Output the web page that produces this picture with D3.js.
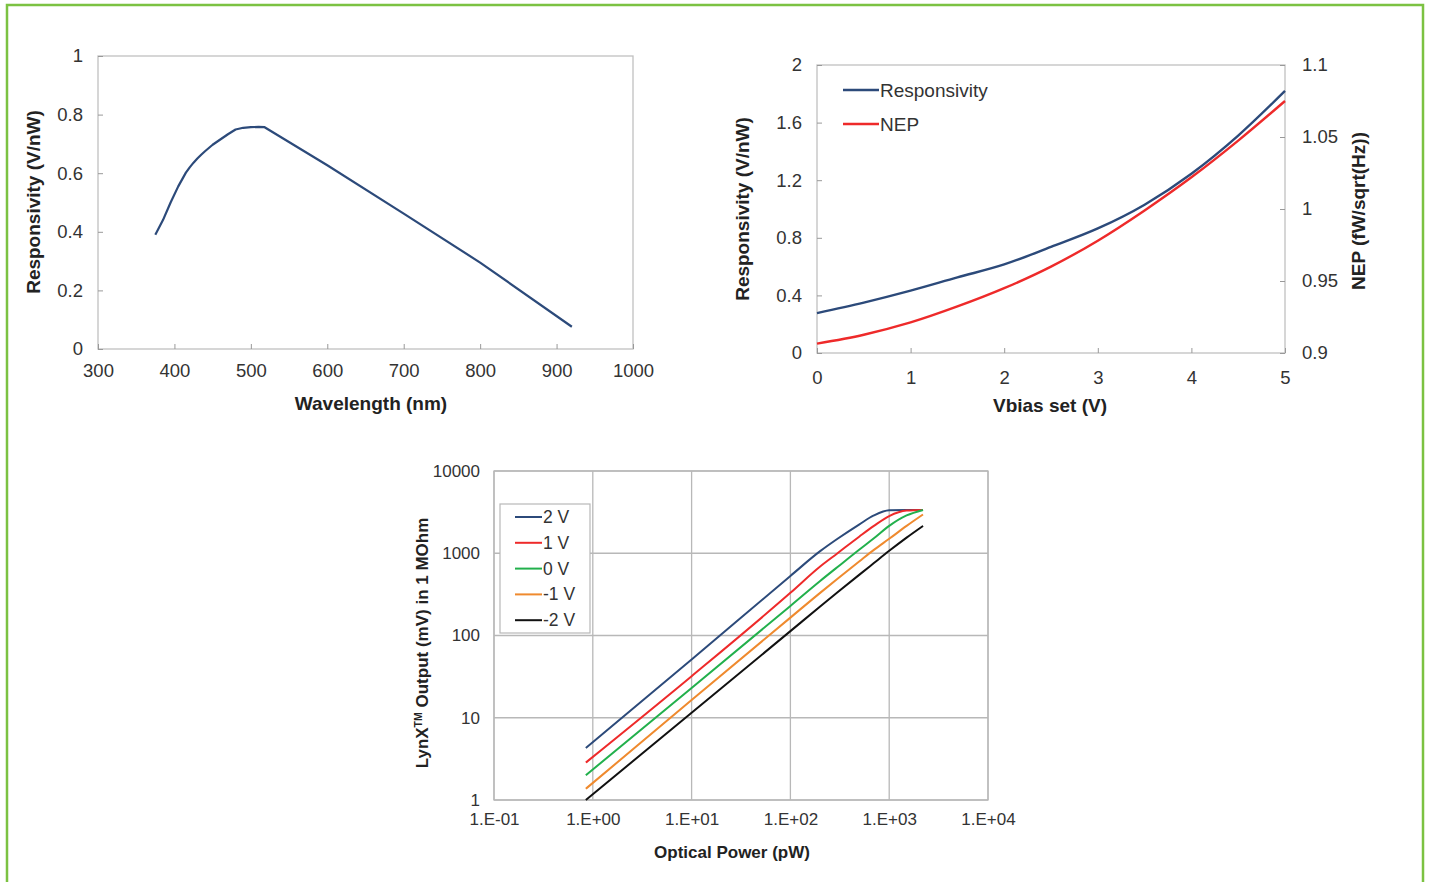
<!DOCTYPE html>
<html>
<head>
<meta charset="utf-8">
<script src="https://cdn.jsdelivr.net/npm/d3@7"></script>
<style>
  html, body { margin: 0; padding: 0; background: #fff; }
  svg { display: block; }
  text { font-family: "Liberation Sans", Arial, sans-serif; }
</style>
</head>
<body>
<svg id="chart" width="1430" height="882"></svg>
<script>
// ---------- Data ----------
// Chart 1: Responsivity vs wavelength
const wavelengthNm = [375, 385, 395, 405, 415, 420, 425, 430, 435, 440, 450, 460, 470, 480, 490, 500, 510, 518, 600, 700, 800, 920];
const responsivityVnW = [0.39, 0.44, 0.50, 0.555, 0.602, 0.620, 0.636, 0.650, 0.663, 0.675, 0.697, 0.715, 0.733, 0.749, 0.755, 0.757, 0.758, 0.757, 0.627, 0.462, 0.295, 0.076];
const xTicks1 = [300, 400, 500, 600, 700, 800, 900, 1000];
const yTicks1 = [0, 0.2, 0.4, 0.6, 0.8, 1];

// Chart 2: Responsivity & NEP vs Vbias
const vbias = [0, 0.5, 1, 1.5, 2, 2.5, 3, 3.5, 4, 4.5, 5];
const respVsBias = [0.277, 0.35, 0.433, 0.525, 0.615, 0.737, 0.865, 1.03, 1.245, 1.51, 1.82];
const nepVsBias = [0.9065, 0.9127, 0.9212, 0.9323, 0.945, 0.960, 0.978, 0.999, 1.022, 1.0475, 1.075];
const xTicks2 = [0, 1, 2, 3, 4, 5];
const yTicks2L = [0, 0.4, 0.8, 1.2, 1.6, 2];
const yTicks2R = [0.9, 0.95, 1, 1.05, 1.1];
const seriesNames2 = ["Responsivity", "NEP"];

// Chart 3: LynX output vs optical power (log-log)
const powerPw = [0.85, 10, 100, 200, 300, 500, 700, 1000, 1500, 2200];
const seriesNames3 = ["2 V", "1 V", "0 V", "-1 V", "-2 V"];
const out2V  = [4.3, 51, 530, 1060, 1500, 2250, 2880, 3330, 3360, 3360];
const out1V  = [2.85, 32, 330, 690, 1000, 1600, 2150, 2830, 3300, 3360];
const out0V  = [2.0, 23, 229, 460, 680, 1110, 1520, 2150, 2880, 3360];
const outM1V = [1.37, 16.4, 165, 330, 490, 800, 1100, 1500, 2150, 2960];
const outM2V = [1.0, 11.5, 113, 225, 335, 550, 760, 1070, 1550, 2150];
const xTicks3 = [0.1, 1, 10, 100, 1000, 10000];
const xTickLabels3 = ["1.E-01", "1.E+00", "1.E+01", "1.E+02", "1.E+03", "1.E+04"];
const yTicks3 = [1, 10, 100, 1000, 10000];

// ---------- Styles ----------
const navy = "#2c4a7a", red = "#ee2a2a", green = "#22b04c", orange = "#ef8a2e", black = "#111";
const frameGray = "#c0c0c0", tickText = "#333";

const svg = d3.select("#chart");

// Green frame
svg.append("rect").attr("x", 7).attr("y", 5).attr("width", 1416).attr("height", 890)
  .attr("fill", "none").attr("stroke", "#7cc242").attr("stroke-width", 2.5);

function styleAxis(g) {
  g.selectAll(".domain").remove();
  g.selectAll(".tick line").attr("stroke", "#999");
  g.selectAll(".tick text").attr("fill", tickText).style("font-family", "Liberation Sans, Arial, sans-serif");
}

// ================= Chart 1 =================
{
  const L = 98, R = 633, T = 56, B = 349;
  const x = d3.scaleLinear().domain([300, 1000]).range([L, R]);
  const y = d3.scaleLinear().domain([0, 1]).range([B, T]);
  const g = svg.append("g");
  g.append("rect").attr("x", L).attr("y", T).attr("width", R - L).attr("height", B - T)
    .attr("fill", "none").attr("stroke", frameGray).attr("stroke-width", 1.3);
  g.append("g").attr("transform", `translate(0,${B})`)
    .call(d3.axisBottom(x).tickValues(xTicks1).tickSizeInner(-5).tickSizeOuter(0).tickPadding(15).tickFormat(d3.format("d")))
    .call(styleAxis).selectAll("text").style("font-size", "18.5px");
  g.append("g").attr("transform", `translate(${L},0)`)
    .call(d3.axisLeft(y).tickValues(yTicks1).tickSizeInner(-5).tickSizeOuter(0).tickPadding(15).tickFormat(d => d === 0 || d === 1 ? d : d.toFixed(1)))
    .call(styleAxis).selectAll("text").style("font-size", "18.5px");
  const line = d3.line().x((d, i) => x(wavelengthNm[i])).y(d => y(d)).curve(d3.curveLinear);
  g.append("path").datum(responsivityVnW).attr("d", line).attr("fill", "none")
    .attr("stroke", navy).attr("stroke-width", 2.2).attr("stroke-linejoin", "round");
  g.append("text").attr("x", 371).attr("y", 410).attr("text-anchor", "middle")
    .style("font-size", "19px").style("font-weight", "bold").attr("fill", "#222").text("Wavelength (nm)");
  g.append("text").attr("transform", "translate(40,202) rotate(-90)").attr("text-anchor", "middle")
    .style("font-size", "19px").style("font-weight", "bold").attr("fill", "#222").text("Responsivity (V/nW)");
}

// ================= Chart 2 =================
{
  const L = 817, R = 1285, T = 65, B = 353;
  const x = d3.scaleLinear().domain([0, 5]).range([L, R]);
  const yL = d3.scaleLinear().domain([0, 2]).range([B, T]);
  const yR = d3.scaleLinear().domain([0.9, 1.1]).range([B, T]);
  const g = svg.append("g");
  g.append("rect").attr("x", L).attr("y", T).attr("width", R - L).attr("height", B - T)
    .attr("fill", "none").attr("stroke", frameGray).attr("stroke-width", 1.3);
  g.append("g").attr("transform", `translate(0,${B})`)
    .call(d3.axisBottom(x).tickValues(xTicks2).tickSizeInner(-5).tickSizeOuter(0).tickPadding(18).tickFormat(d3.format("d")))
    .call(styleAxis).selectAll("text").style("font-size", "18.5px");
  g.append("g").attr("transform", `translate(${L},0)`)
    .call(d3.axisLeft(yL).tickValues(yTicks2L).tickSizeInner(-5).tickSizeOuter(0).tickPadding(15).tickFormat(d => Number.isInteger(d) ? d : d.toFixed(1)))
    .call(styleAxis).selectAll("text").style("font-size", "18.5px");
  g.append("g").attr("transform", `translate(${R},0)`)
    .call(d3.axisRight(yR).tickValues(yTicks2R).tickSizeInner(-5).tickSizeOuter(0).tickPadding(17).tickFormat(d => String(+d.toFixed(2))))
    .call(styleAxis).selectAll("text").style("font-size", "18.5px");
  const lineL = d3.line().x((d, i) => x(vbias[i])).y(d => yL(d)).curve(d3.curveMonotoneX);
  const lineR = d3.line().x((d, i) => x(vbias[i])).y(d => yR(d)).curve(d3.curveMonotoneX);
  g.append("path").datum(respVsBias).attr("d", lineL).attr("fill", "none").attr("stroke", navy).attr("stroke-width", 2.4);
  g.append("path").datum(nepVsBias).attr("d", lineR).attr("fill", "none").attr("stroke", red).attr("stroke-width", 2.4);
  // legend
  const lc = [navy, red];
  seriesNames2.forEach((n, i) => {
    const yy = 90 + i * 34;
    g.append("line").attr("x1", 843).attr("x2", 879).attr("y1", yy).attr("y2", yy).attr("stroke", lc[i]).attr("stroke-width", 2.4);
    g.append("text").attr("x", 880).attr("y", yy + 6.5).style("font-size", "19px").attr("fill", tickText).text(n);
  });
  g.append("text").attr("x", 1050).attr("y", 412).attr("text-anchor", "middle")
    .style("font-size", "19px").style("font-weight", "bold").attr("fill", "#222").text("Vbias set (V)");
  g.append("text").attr("transform", "translate(749,209) rotate(-90)").attr("text-anchor", "middle")
    .style("font-size", "19px").style("font-weight", "bold").attr("fill", "#222").text("Responsivity (V/nW)");
  g.append("text").attr("transform", "translate(1365,211) rotate(-90)").attr("text-anchor", "middle")
    .style("font-size", "19px").style("font-weight", "bold").attr("fill", "#222").text("NEP (fW/sqrt(Hz))");
}

// ================= Chart 3 =================
{
  const L = 494, R = 988, T = 471, B = 800;
  const x = d3.scaleLog().domain([0.1, 10000]).range([L, R]);
  const y = d3.scaleLog().domain([1, 10000]).range([B, T]);
  const g = svg.append("g");
  // gridlines
  g.append("g").selectAll("line.v").data(xTicks3).join("line")
    .attr("x1", d => x(d)).attr("x2", d => x(d)).attr("y1", T).attr("y2", B)
    .attr("stroke", "#b8b8b8").attr("stroke-width", 1.3);
  g.append("g").selectAll("line.h").data(yTicks3).join("line")
    .attr("x1", L).attr("x2", R).attr("y1", d => y(d)).attr("y2", d => y(d))
    .attr("stroke", "#b8b8b8").attr("stroke-width", 1.3);
  g.append("rect").attr("x", L).attr("y", T).attr("width", R - L).attr("height", B - T)
    .attr("fill", "none").attr("stroke", "#b8b8b8").attr("stroke-width", 1.3);
  g.append("g").attr("transform", `translate(0,${B})`)
    .call(d3.axisBottom(x).tickValues(xTicks3).tickSize(0).tickPadding(13).tickFormat((d, i) => xTickLabels3[i]))
    .call(styleAxis).selectAll("text").style("font-size", "17px");
  g.append("g").attr("transform", `translate(${L},0)`)
    .call(d3.axisLeft(y).tickValues(yTicks3).tickSize(0).tickPadding(14).tickFormat(d3.format("d")))
    .call(styleAxis).selectAll("text").style("font-size", "17px");
  const series = [out2V, out1V, out0V, outM1V, outM2V];
  const colors = [navy, red, green, orange, black];
  const line = d3.line().x((d, i) => x(powerPw[i])).y(d => y(d)).curve(d3.curveMonotoneX);
  series.forEach((s, k) => {
    g.append("path").datum(s).attr("d", line).attr("fill", "none").attr("stroke", colors[k]).attr("stroke-width", 2);
  });
  // legend
  g.append("rect").attr("x", 500).attr("y", 504).attr("width", 90).attr("height", 129)
    .attr("fill", "#fff").attr("stroke", "#b8b8b8").attr("stroke-width", 1.2);
  seriesNames3.forEach((n, i) => {
    const yy = 517 + i * 25.8;
    g.append("line").attr("x1", 515).attr("x2", 542).attr("y1", yy).attr("y2", yy).attr("stroke", colors[i]).attr("stroke-width", 2);
    g.append("text").attr("x", 543).attr("y", yy + 6).style("font-size", "17.5px").attr("fill", tickText).text(n);
  });
  g.append("text").attr("x", 732).attr("y", 858).attr("text-anchor", "middle")
    .style("font-size", "17px").style("font-weight", "bold").attr("fill", "#222").text("Optical Power (pW)");
  const yt = g.append("text").attr("transform", "translate(428,643) rotate(-90)").attr("text-anchor", "middle")
    .style("font-size", "17px").style("font-weight", "bold").attr("fill", "#222");
  yt.append("tspan").text("LynX");
  yt.append("tspan").attr("baseline-shift", "super").style("font-size", "10.5px").text("TM");
  yt.append("tspan").text(" Output (mV) in 1 MOhm");
}
</script>
</body>
</html>
